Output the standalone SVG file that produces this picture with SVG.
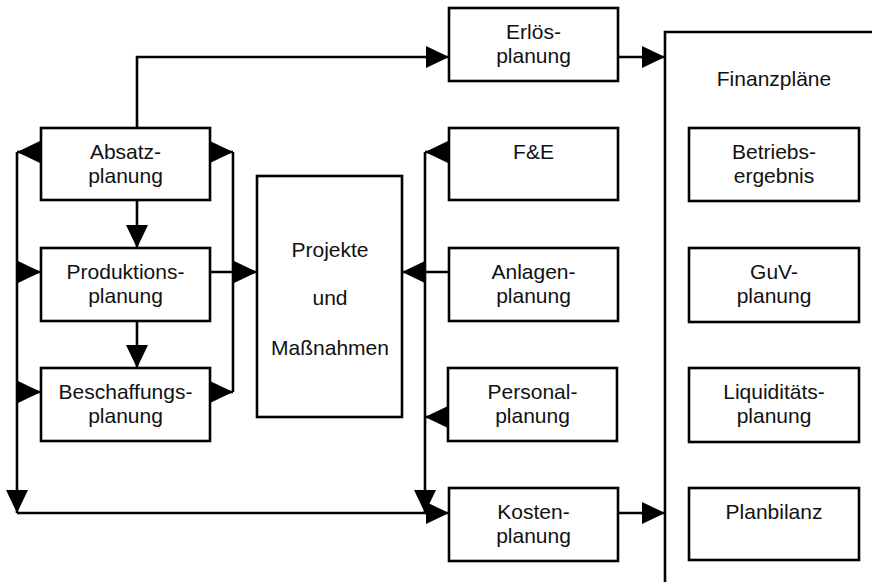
<svg xmlns="http://www.w3.org/2000/svg" width="872" height="582" viewBox="0 0 872 582">
<style>
.box{fill:#fff;stroke:#000;stroke-width:2.6}
.ln{fill:none;stroke:#000;stroke-width:2.6}
.ar{fill:none;stroke:#000;stroke-width:2.6;marker-end:url(#ah)}
text{font-family:"Liberation Sans",Arial,sans-serif;font-size:21px;fill:#111;text-anchor:middle}
</style>
<defs>
<marker id="ah" markerUnits="userSpaceOnUse" markerWidth="23" markerHeight="22" refX="23" refY="11" orient="auto" overflow="visible">
<path d="M0,0 L23,11 L0,22 z" fill="#000"/>
</marker>
</defs>
<rect width="872" height="582" fill="#fff"/>
<g id="connectors">
<path class="ar" d="M137,128 V57 H449"/>
<path class="ar" d="M618,57 H665"/>
<path class="ar" d="M41,152 H17"/>
<path class="ar" d="M17,152 V513"/>
<path class="ar" d="M17,513 H449"/>
<path class="ar" d="M17,272 H41"/>
<path class="ar" d="M17,392 H41"/>
<path class="ar" d="M210,152 H233"/>
<path class="ar" d="M210,392 H233"/>
<path class="ln" d="M233,152 V392"/>
<path class="ar" d="M137,200 V248"/>
<path class="ar" d="M137,321 V368"/>
<path class="ar" d="M210,272 H257"/>
<path class="ar" d="M449,152 H425"/>
<path class="ar" d="M425,152 V513"/>
<path class="ar" d="M449,272 H402"/>
<path class="ar" d="M448,417 H425"/>
<path class="ar" d="M618,513 H665"/>
</g>
<g id="absatz"><rect class="box" x="41" y="128" width="169" height="72"/><text x="125.5" y="159">Absatz-</text><text x="125.5" y="183">planung</text></g>
<g id="produktion"><rect class="box" x="41" y="248" width="169" height="73"/><text x="125.5" y="279">Produktions-</text><text x="125.5" y="303">planung</text></g>
<g id="beschaffung"><rect class="box" x="41" y="368" width="169" height="73"/><text x="125.5" y="399">Beschaffungs-</text><text x="125.5" y="423">planung</text></g>
<g id="projekte"><rect class="box" x="257" y="176" width="145" height="241"/><text x="330" y="257">Projekte</text><text x="330" y="305">und</text><text x="330" y="355">Maßnahmen</text></g>
<g id="erloes"><rect class="box" x="449" y="8" width="169" height="73"/><text x="533.5" y="39">Erlös-</text><text x="533.5" y="63">planung</text></g>
<g id="fe"><rect class="box" x="449" y="128" width="169" height="72"/><text x="533.5" y="159">F&amp;E</text></g>
<g id="anlagen"><rect class="box" x="449" y="248" width="169" height="73"/><text x="533.5" y="279">Anlagen-</text><text x="533.5" y="303">planung</text></g>
<g id="personal"><rect class="box" x="448" y="368" width="169" height="73"/><text x="532.5" y="399">Personal-</text><text x="532.5" y="423">planung</text></g>
<g id="kosten"><rect class="box" x="449" y="488" width="169" height="73"/><text x="533.5" y="519">Kosten-</text><text x="533.5" y="543">planung</text></g>
<g id="finanzplaene"><path class="ln" d="M873,32 H665 V583"/><text x="774" y="86">Finanzpläne</text></g>
<g id="betriebsergebnis"><rect class="box" x="689" y="128" width="170" height="73"/><text x="774" y="159">Betriebs-</text><text x="774" y="183">ergebnis</text></g>
<g id="guv"><rect class="box" x="689" y="248" width="170" height="74"/><text x="774" y="279">GuV-</text><text x="774" y="303">planung</text></g>
<g id="liquiditaet"><rect class="box" x="689" y="368" width="170" height="74"/><text x="774" y="399">Liquiditäts-</text><text x="774" y="423">planung</text></g>
<g id="planbilanz"><rect class="box" x="689" y="488" width="170" height="72"/><text x="774" y="519">Planbilanz</text></g>
</svg>
